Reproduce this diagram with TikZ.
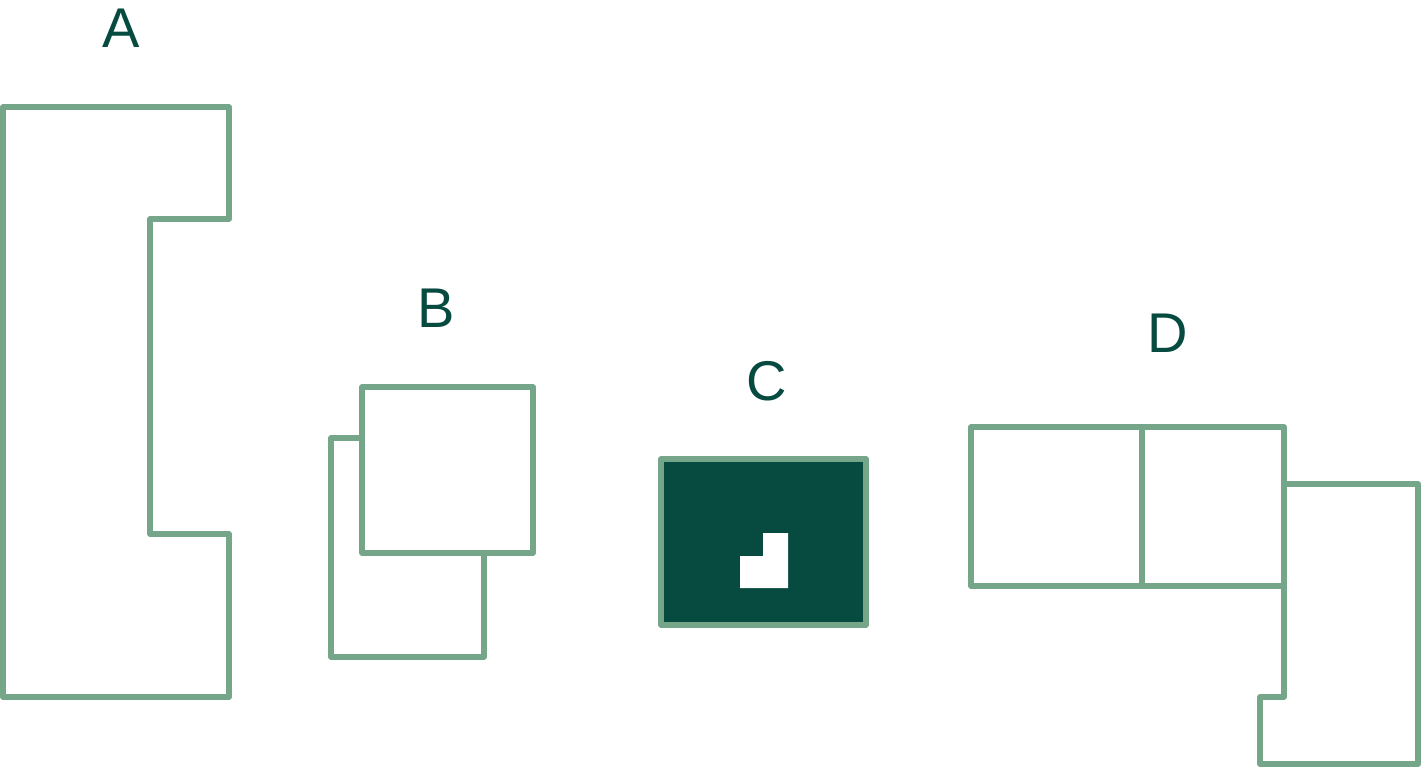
\documentclass[tikz,border=0pt]{standalone}
\usepackage{fontspec}
\setmainfont{Liberation Sans}
\usetikzlibrary{positioning}
\definecolor{leaf}{RGB}{118,166,138}
\definecolor{pine}{RGB}{6,74,64}

\begin{document}
\begin{tikzpicture}[x=0.5pt,y=-0.5pt,
	wall/.style={draw=leaf,line width=2.6pt,line join=round},
	tag/.style={text=pine,font=\fontsize{28}{30}\selectfont,anchor=base,inner sep=0pt}]
	
	\useasboundingbox (0,0) rectangle (1422,767);
	
	% labels
	\node[tag] (A) at (121,47) {A};
	\node[tag] (B) at (436,327) {B};
	\node[tag] (C) at (767,400) {C};
	\node[tag] (D) at (1168,352) {D};
	
	% A
	\draw[wall] (3,107) -- (229,107) -- (229,219) -- (150,219) -- (150,534)
	-- (229,534) -- (229,697) -- (3,697) -- cycle;
	
	% B
	\draw[wall] (331,438) rectangle (484,657);
	\draw[wall,fill=white] (362,387) rectangle (533,553);
	
	% C
	\draw[wall,fill=pine] (661,459) rectangle (866,625);
	\fill[white] (740,556) -- (763,556) -- (763,533) -- (788,533) -- (788,588)
	-- (740,588) -- cycle;
	
	% D
	\draw[wall] (971,427) rectangle (1284,586);
	\draw[wall] (1142,427) -- (1142,586);
	\draw[wall] (1284,484) -- (1418,484) -- (1418,764) -- (1260,764) -- (1260,697)
	-- (1284,697) -- cycle;
\end{tikzpicture}
\end{document}
